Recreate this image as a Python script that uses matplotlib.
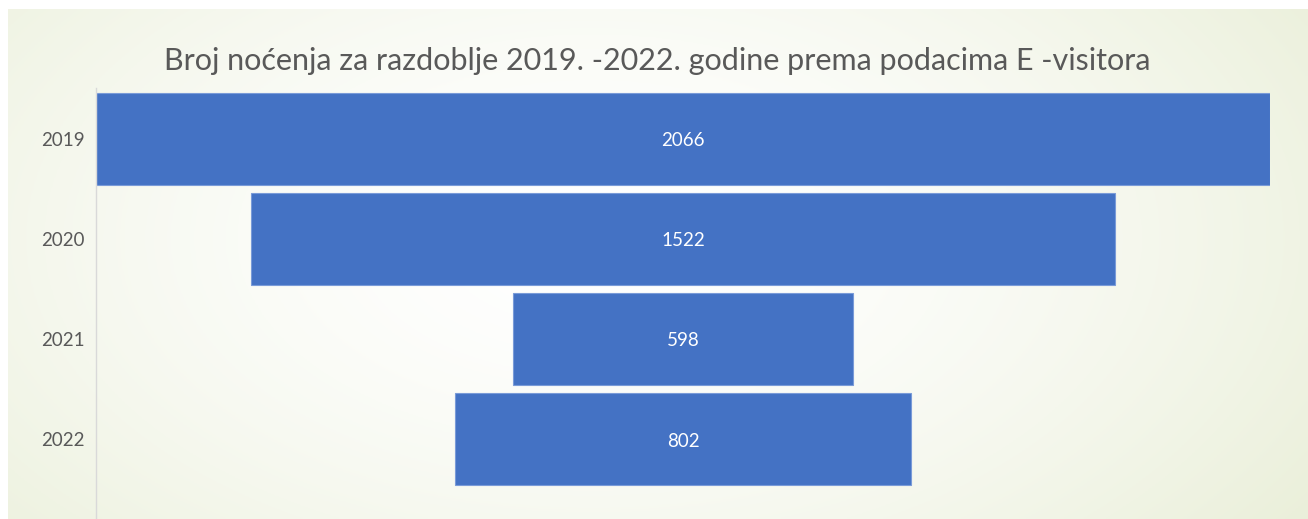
import numpy as np
import matplotlib.pyplot as plt

years = ["2019", "2020", "2021", "2022"]
nocenja = [2066, 1522, 598, 802]
title = "Broj noćenja za razdoblje 2019. -2022. godine prema podacima E -visitora"

W, H = 1308, 519
fig = plt.figure(figsize=(W / 100, H / 100), dpi=100)
fig.patch.set_facecolor("white")

# pozadina s gradijentom
bg = fig.add_axes([8 / W, 0, 1 - 8 / W, (H - 9) / H])
gx, gy = np.meshgrid(np.linspace(0, 1, 400), np.linspace(0, 1, 200))
d = np.sqrt(((gx - 0.45) / 0.75) ** 2 + ((gy - 0.55) / 1.1) ** 2)
t = np.clip(d, 0, 1)[..., None] ** 1.6
centre = np.array([1.0, 1.0, 1.0])
edge = np.array([0xe6, 0xec, 0xd2]) / 255
img = centre * (1 - t) + edge * t
bg.imshow(img, aspect="auto", extent=[0, 1, 0, 1], origin="lower")
bg.axis("off")

# lijevi rub osi 96 px, desni 1270 px; vrh 88 px
ax = fig.add_axes([96 / W, 0, (1270 - 96) / W, (H - 88) / H])
ax.patch.set_alpha(0)
half = max(nocenja) / 2
ax.set_xlim(-half, half)
ax.set_ylim(3.8, -0.51)

y = np.arange(len(years))
lefts = [-v / 2 for v in nocenja]
bars = ax.barh(y, nocenja, left=lefts, height=0.92, color="#4472C4",
               edgecolor="#7a9bd8", linewidth=0.8)
for yi, v in zip(y, nocenja):
    ax.text(0, yi + 0.02, str(v), ha="center", va="center", color="white",
            fontsize=13.5, family="Lato")

ax.set_yticks(y)
ax.set_yticklabels(years, fontsize=13.5, color="#595959", family="Lato")
ax.tick_params(axis="y", length=0, pad=8)
ax.set_xticks([])
for s in ["top", "right", "bottom"]:
    ax.spines[s].set_visible(False)
ax.spines["left"].set_color("#d9d9d9")
ax.spines["left"].set_linewidth(1)

fig.text(657 / W, 1 - 61 / H, title, ha="center", va="center",
         fontsize=22, color="#595959", family="Lato")

fig.savefig("out.png", dpi=100)
